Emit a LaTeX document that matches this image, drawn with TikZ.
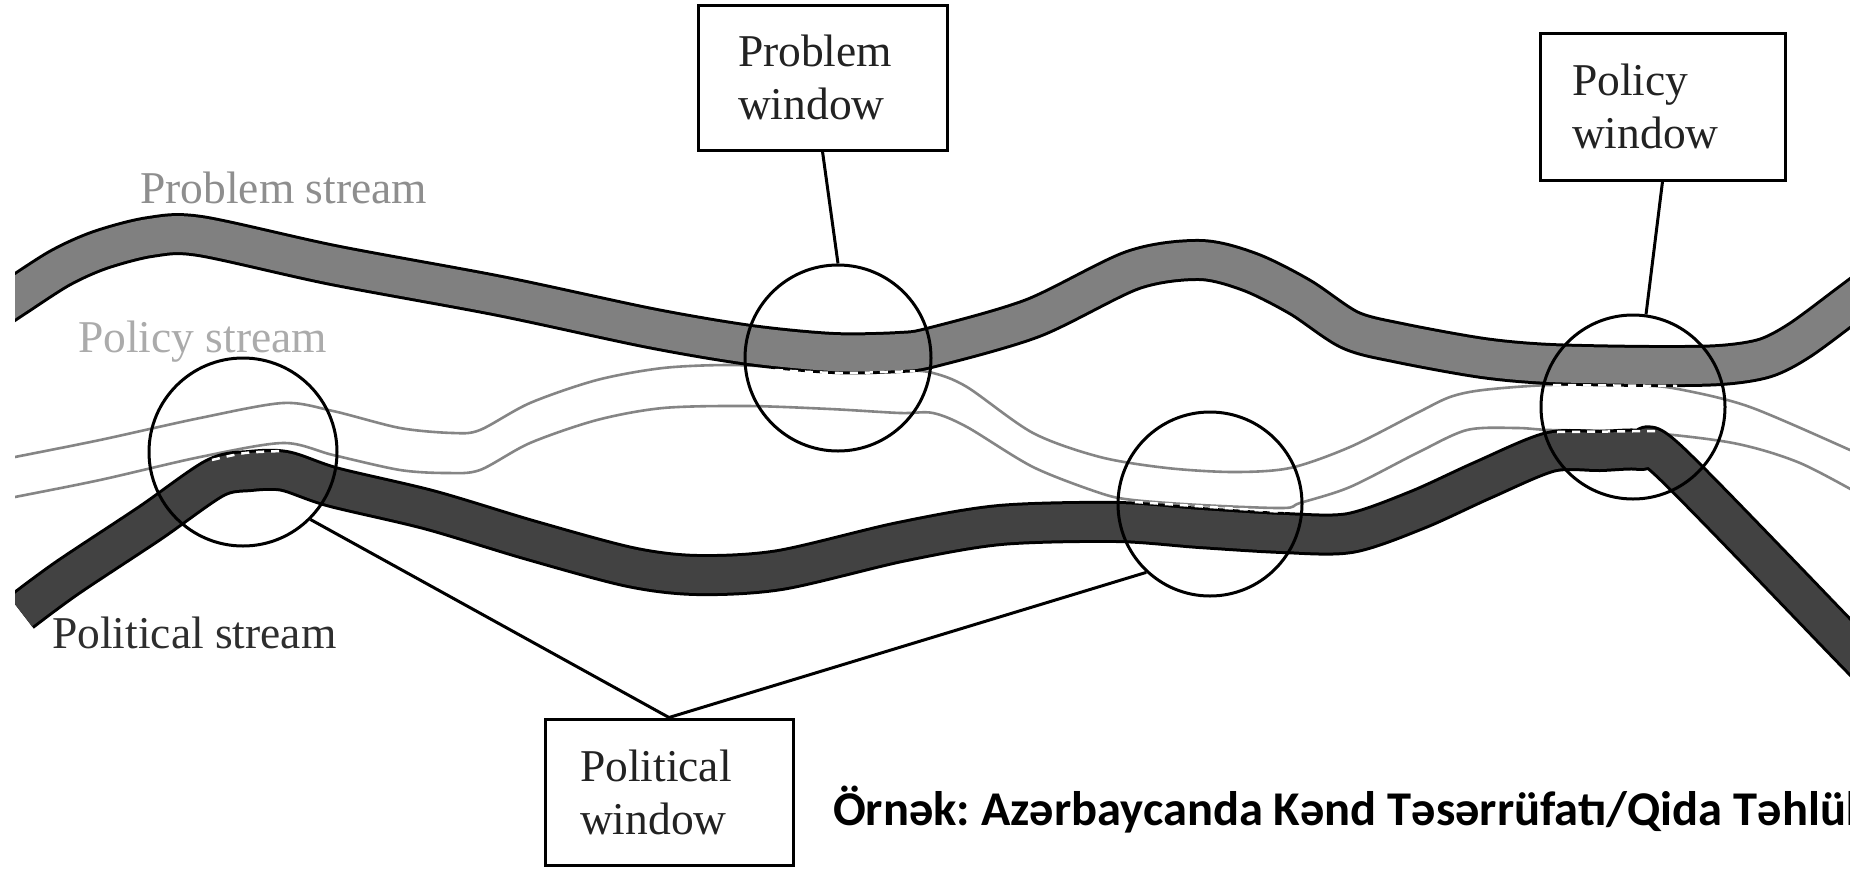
\documentclass[tikz,border=0pt]{standalone}
\usepackage{fontspec}
\setmainfont{Liberation Serif}
\newfontfamily\capfont{Carlito}
\definecolor{probgray}{HTML}{808080}
\definecolor{polgray}{HTML}{424242}
\definecolor{linegray}{HTML}{858585}
\definecolor{probtxt}{HTML}{8E8E8E}
\definecolor{policytxt}{HTML}{ABABAB}
\definecolor{polittxt}{HTML}{2E2E2E}
\definecolor{boxtext}{HTML}{222222}
\newcommand\lblfont{\fontsize{45.5}{53}\selectfont}
\begin{document}
\begin{tikzpicture}[x=1pt,y=-1pt,
  band/.style={line width=3pt, double distance=36pt, line cap=butt, line join=round},
  probband/.style={band, draw=black, double=probgray},
  polband/.style={band, draw=black, double=polgray},
  policyline/.style={draw=linegray, line width=2.6pt},
  win/.style={circle, draw=black, line width=3pt, inner sep=0pt},
  wbox/.style={draw=black, line width=3pt, align=left, inner ysep=0pt, font=\lblfont, text=boxtext},
  link/.style={draw=black, line width=3pt},
  merge/.style={draw=white, line width=2.5pt, dash pattern=on 8pt off 7pt},
  lbl/.style={anchor=base west, inner sep=0pt, font=\lblfont}
]
\useasboundingbox[fill=white] (0,0) rectangle (1850,868);
\begin{scope}
\clip (15,0) rectangle (1850,868);
% policy stream (two thin lines)
\draw[policyline] plot[smooth, tension=0.5] coordinates {(0,460) (15,457) (100,440) (200,418) (283,403) (333,411) (400,428) (453,433) (480,430) (530,403) (597,380) (663,368) (730,365) (800,368) (900,370) (933,373) (967,387) (1033,433) (1100,457) (1167,468) (1233,472) (1290,468) (1350,447) (1417,413) (1450,397) (1483,390) (1550,385) (1640,385) (1683,390) (1750,407) (1850,450) (1870,460)};
\draw[policyline] plot[smooth, tension=0.5] coordinates {(0,500) (15,497) (100,480) (200,457) (283,443) (333,455) (400,470) (447,473) (480,470) (530,443) (597,420) (663,408) (747,406) (830,409) (900,413) (933,413) (967,427) (1033,467) (1100,493) (1133,500) (1200,505) (1283,508) (1300,503) (1350,487) (1417,453) (1467,430) (1517,428) (1550,430) (1640,432) (1733,443) (1800,463) (1870,500)};
% problem stream band
\draw[probband] plot[smooth, tension=0.5] coordinates {(0,307) (15,297) (60,268) (100,250) (150,237) (200,236) (333,265) (500,296) (650,328) (750,345) (833,353) (900,352) (933,347) (1033,318) (1133,270) (1200,260) (1250,272) (1300,297) (1350,330) (1400,343) (1483,358) (1550,364) (1650,366) (1720,365) (1765,358) (1800,340) (1850,303) (1870,288)};
% political stream band
\draw[polband] plot[smooth, tension=0.5] coordinates {(21,612) (67,578) (150,523) (215,478) (250,471) (285,471) (333,487) (430,510) (530,540) (630,567) (697,575) (780,570) (900,542) (1000,525) (1117,522) (1200,528) (1283,533) (1350,533) (1417,510) (1483,480) (1550,452) (1600,451) (1640,450) (1670,462) (1850,647) (1880,678)};
% merged (dashed) edges inside the windows
\draw[merge] plot[smooth] coordinates {(212,460) (245,453) (283,451)};
\draw[merge] plot[smooth] coordinates {(775,370) (840,373) (915,371)};
\draw[merge] plot[smooth] coordinates {(1135,502) (1210,507) (1285,512)};
\draw[merge] (1553,385) -- (1677,386);
\draw[merge] (1557,432) -- (1657,431);
\end{scope}
\node[anchor=base west, inner sep=0pt, font=\capfont\bfseries\frenchspacing\fontsize{48.5}{50}\selectfont] (caption) at (833,825) {Örnək: Azərbaycanda Kənd Təsərrüfatı/Qida Təhlük};
% windows (circles)
\node[win, minimum size=188pt] (c1) at (243,452) {};
\node[win, minimum size=186pt] (c2) at (838,358) {};
\node[win, minimum size=184pt] (c3) at (1210,504) {};
\node[win, minimum size=184pt] (c4) at (1633,407) {};
% boxes
\node[wbox, minimum width=249pt, minimum height=145pt, text width=169pt, inner xsep=40pt] (probwin) at (822.5,77.5) {Problem\\window};
\node[wbox, minimum width=245pt, minimum height=147pt, text width=181pt, inner xsep=32pt] (policywin) at (1662.5,106.5) {Policy\\window};
\node[wbox, minimum width=248pt, minimum height=146pt, text width=178pt, inner xsep=35pt] (politwin) at (669,792) {Political\\window};
% connectors
\draw[link] (probwin.south) -- (c2.north);
\draw[link] (policywin.south) -- (c4.82);
\draw[link, line join=miter] (c1.-45) -- (politwin.north) -- (c3.227);
% stream labels
\node[lbl, text=probtxt] (problbl) at (140,203) {Problem stream};
\node[lbl, text=policytxt] (policylbl) at (78,352) {Policy stream};
\node[lbl, text=polittxt] (politlbl) at (52,648) {Political stream};
\end{tikzpicture}
\end{document}
